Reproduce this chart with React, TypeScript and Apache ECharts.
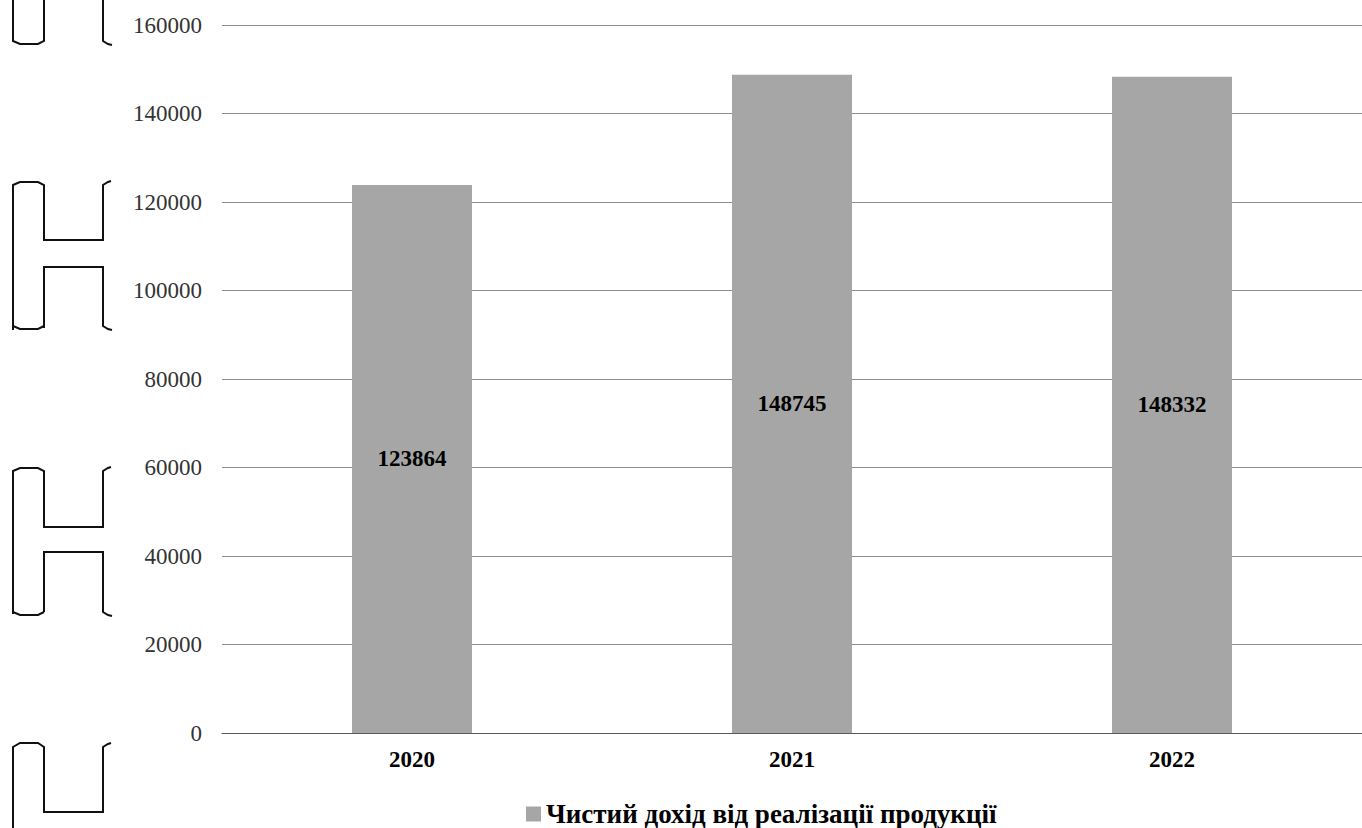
import React, { useEffect, useRef } from "react";
import * as echarts from "echarts";

const categories = ["2020", "2021", "2022"];
const revenue = [123864, 148745, 148332];
const seriesName = "Чистий дохід від реалізації продукції";
const yTicks = { min: 0, max: 160000, interval: 20000 };

const FONT = "'Liberation Serif', 'Times New Roman', serif";

const bracketLines: number[][][] = [
  // top fragment
  [[13, 0], [13, 41], [20, 44], [38, 44], [44, 41], [44, 0]],
  [[103, 0], [103, 41], [108, 44], [112, 45]],
  // second fragment
  [[13, 330], [13, 185], [20, 182], [38, 182], [44, 185], [44, 240], [103, 240], [103, 185], [108, 182], [111, 181]],
  [[44, 328], [44, 267], [103, 267], [103, 326], [108, 329], [112, 330]],
  [[13, 326], [20, 329], [38, 329], [44, 326]],
  // third fragment
  [[13, 614], [13, 471], [20, 468], [38, 468], [44, 471], [44, 527], [103, 527], [103, 471], [108, 468], [111, 467]],
  [[44, 612], [44, 552], [103, 552], [103, 612], [108, 615], [112, 616]],
  [[13, 612], [20, 615], [38, 615], [44, 612]],
  // bottom fragment
  [[13, 828], [13, 747], [20, 743], [38, 743], [44, 747], [44, 812], [103, 812], [103, 747], [108, 744], [111, 743]],
];

export default function App() {
  const ref = useRef<HTMLDivElement>(null);
  useEffect(() => {
    if (!ref.current) return;
    const chart = echarts.init(ref.current, undefined, { renderer: "svg" });
    chart.setOption({
      animation: false,
      backgroundColor: "#ffffff",
      textStyle: { fontFamily: FONT },
      grid: { left: 222, top: 25, width: 1146, height: 708, containLabel: false },
      legend: {
        left: 526,
        top: 800,
        padding: 0,
        itemWidth: 15,
        itemHeight: 15,
        itemGap: 6,
        icon: "rect",
        textStyle: {
          fontFamily: FONT,
          fontWeight: "bold",
          fontSize: 27,
          lineHeight: 28,
          color: "#000",
          padding: [0, 0, 0, 0],
        },
        data: [seriesName],
      },
      xAxis: {
        type: "category",
        data: categories,
        axisTick: { show: false },
        axisLine: { lineStyle: { color: "#595959", width: 1 } },
        axisLabel: { fontFamily: FONT, fontWeight: "bold", fontSize: 23, color: "#000", margin: 15 },
      },
      yAxis: {
        type: "value",
        min: yTicks.min,
        max: yTicks.max,
        interval: yTicks.interval,
        axisLine: { show: false },
        axisTick: { show: false },
        splitLine: { lineStyle: { color: "#8c8c8c", width: 1 } },
        axisLabel: {
          fontFamily: FONT,
          fontSize: 23,
          color: "#333",
          margin: 20,
          formatter: (v: number) => String(v),
        },
      },
      series: [
        {
          name: seriesName,
          type: "bar",
          data: revenue,
          barWidth: 120,
          itemStyle: { color: "#a6a6a6" },
          label: {
            show: true,
            position: "inside",
            fontFamily: FONT,
            fontWeight: "bold",
            fontSize: 23,
            color: "#000",
          },
        },
      ],
      graphic: bracketLines.map((pts) => ({
        type: "polyline",
        shape: { points: pts },
        style: { stroke: "#111", lineWidth: 2, fill: "none" },
        silent: true,
      })),
    });
    return () => chart.dispose();
  }, []);
  return (
    <div
      ref={ref}
      style={{ position: "fixed", left: 0, top: 0, width: 1362, height: 828 }}
    />
  );
}
